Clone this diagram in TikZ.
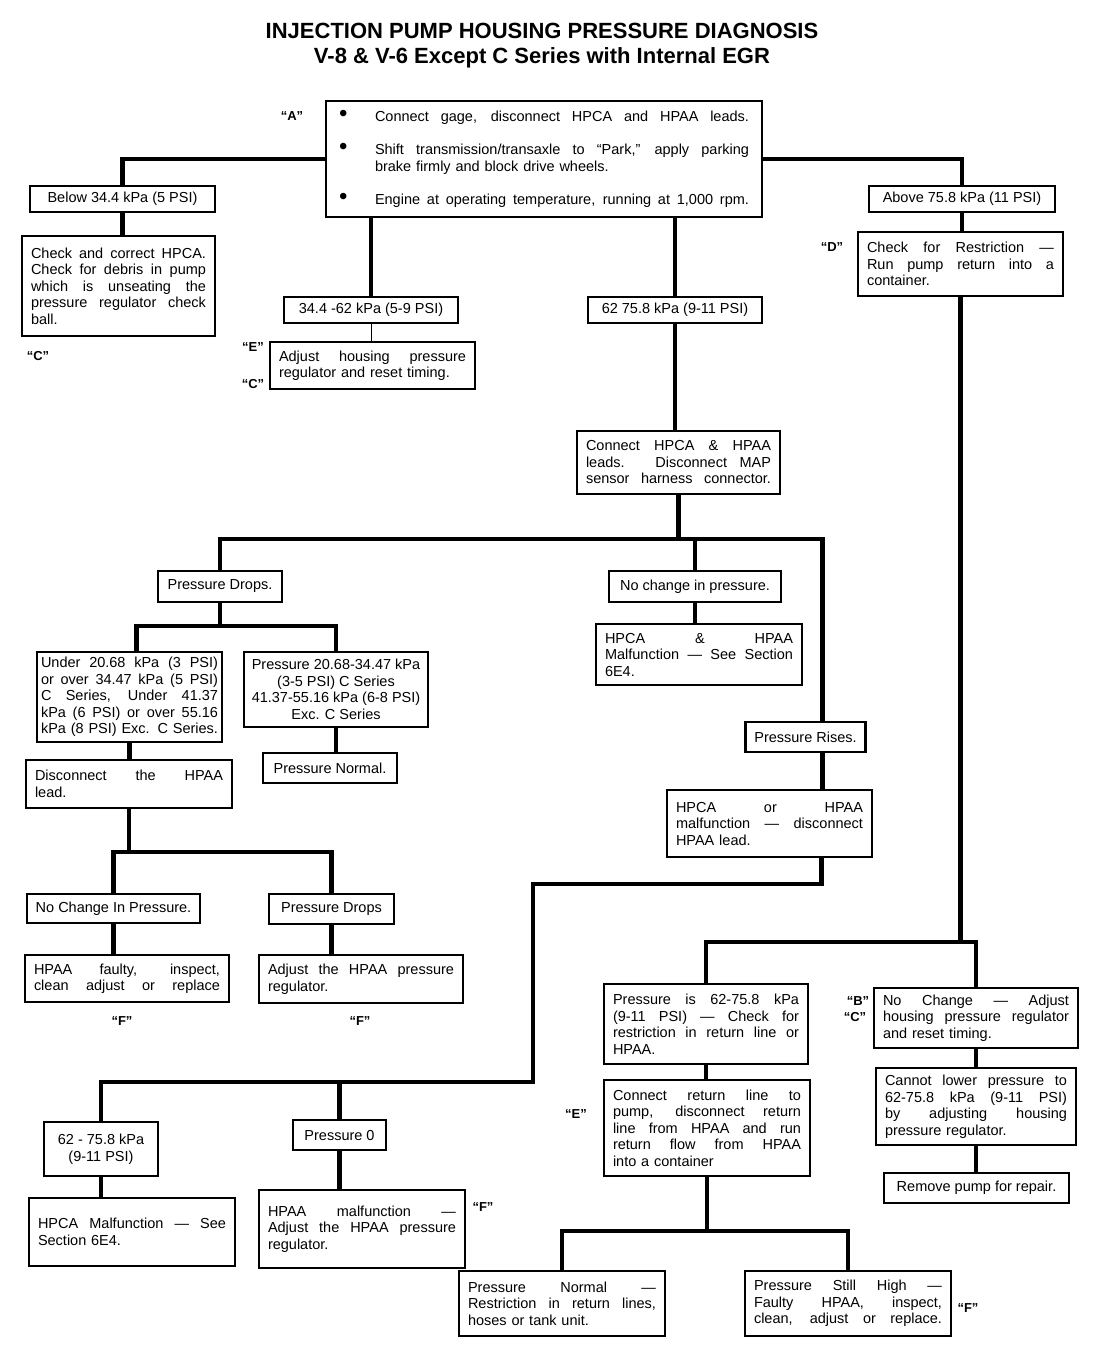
\documentclass[tikz,border=0pt]{standalone}
\usepackage{fontspec}
\setmainfont{Liberation Sans}
\setlength{\parindent}{0pt}
\newcommand{\spread}[2][\hsize]{\makebox[#1][s]{\spaceskip=0pt\xspaceskip=0pt #2}}
\newcommand{\bul}{{\fontsize{24}{16}\selectfont\textbullet}}

\begin{document}
\begin{tikzpicture}[x=1pt, y=-1pt]

\useasboundingbox (0,0) rectangle (1104,1360);

\node[font=\bfseries\fontsize{22}{25}\selectfont, align=center] (title) at (542,46) {INJECTION PUMP HOUSING PRESSURE DIAGNOSIS\\V-8 \& V-6 Except C Series with Internal EGR};

\begin{scope}[every node/.style={draw, line width=2.4pt, fill=white, inner xsep=9pt, inner ysep=3pt, font=\fontsize{14.5}{16.5}\selectfont, align=left}]
	\node[text width=418pt, minimum height=116pt] (start) at (544,159) {
	\makebox[40pt][l]{\hspace{4pt}\bul}\spread[374pt]{Connect gage, disconnect HPCA and HPAA leads.}\\[16.5pt]
	\makebox[40pt][l]{\hspace{4pt}\bul}\spread[374pt]{Shift transmission/transaxle to ``Park,'' apply parking}\\
	\hspace*{40pt}brake firmly and block drive wheels.\\[16.5pt]
	\makebox[40pt][l]{\hspace{4pt}\bul}\spread[374pt]{Engine at operating temperature, running at 1,000 rpm.}};

	% left column of the first split
	\node[minimum width=185pt, minimum height=26pt] (below) at (122.5,199) {Below 34.4 kPa (5 PSI)};
	\node[text width=175pt, minimum height=100pt] (check) at (118.5,286) {\spread{Check and correct HPCA.}\\ \spread{Check for debris in pump}\\ \spread{which is unseating the}\\ \spread{pressure regulator check}\\ ball.};
	\node[minimum width=174pt, minimum height=26pt] (low) at (371,310) {34.4 -62 kPa (5-9 PSI)};
	\node[text width=187pt, minimum height=47pt] (adjust) at (372.5,365.5) {\spread{Adjust housing pressure}\\ regulator and reset timing.};
	\node[minimum width=174pt, minimum height=26pt] (mid) at (675,310) {62 75.8 kPa (9-11 PSI)};
	\node[minimum width=186pt, minimum height=26pt] (above) at (962,199) {Above 75.8 kPa (11 PSI)};
	\node[text width=187pt, minimum height=64pt] (restr) at (960.5,264) {\spread{Check for Restriction ---}\\ \spread{Run pump return into a}\\ container.};

	% normal range branch
	\node[text width=185pt, minimum height=63pt] (leads) at (678.5,462.5) {\spread{Connect HPCA \& HPAA}\\ \spread{leads. Disconnect MAP}\\ \spread{sensor harness connector.}};
	\node[minimum width=124pt, minimum height=31pt] (drops) at (220,586.5) {Pressure Drops.};
	\node[minimum width=172pt, minimum height=31pt] (same) at (695,586.5) {No change in pressure.};
	\node[text width=188pt, minimum height=61pt] (bothbad) at (699,654.5) {\spread{HPCA \& HPAA}\\ \spread{Malfunction --- See Section}\\ 6E4.};
	\node[minimum width=119pt, minimum height=30pt] (rises) at (805.5,737) {Pressure Rises.};
	\node[text width=187pt, minimum height=67pt] (eitherbad) at (769.5,823.5) {\spread{HPCA or HPAA}\\ \spread{malfunction --- disconnect}\\ HPAA lead.};

	\node[text width=177pt, inner xsep=4pt, minimum height=90pt] (outside) at (129.5,697) {\spread{Under 20.68 kPa (3 PSI)}\\ \spread{or over 34.47 kPa (5 PSI)}\\ \spread{C Series, Under 41.37}\\ \spread{kPa (6 PSI) or over 55.16}\\ \spread{kPa (8 PSI) Exc. C Series.}};
	\node[minimum width=184pt, inner xsep=5pt, minimum height=75pt, align=center] (inside) at (336,689.5) {Pressure 20.68-34.47 kPa\\ (3-5 PSI) C Series\\ 41.37-55.16 kPa (6-8 PSI)\\ Exc. C Series};
	\node[minimum width=134pt, minimum height=30pt] (normal) at (330,768) {Pressure Normal.};
	\node[text width=188pt, minimum height=48pt] (unplug) at (129,784) {\spread{Disconnect the HPAA}\\ lead.};
	\node[minimum width=171pt, minimum height=29pt] (same2) at (113.5,908.5) {No Change In Pressure.};
	\node[minimum width=125pt, minimum height=30pt] (drops2) at (331.5,909) {Pressure Drops};
	\node[text width=186pt, minimum height=47pt] (faulty) at (127,978.5) {\spread{HPAA faulty, inspect,}\\ \spread{clean adjust or replace}};
	\node[text width=186pt, minimum height=48pt] (adjhpaa) at (361,979) {\spread{Adjust the HPAA pressure}\\ regulator.};

	\node[minimum width=114pt, minimum height=54pt, align=center] (mid2) at (101,1149) {62 - 75.8 kPa\\ (9-11 PSI)};
	\node[text width=188pt, minimum height=68pt] (hpcabad) at (132,1232) {\spread{HPCA Malfunction --- See}\\ Section 6E4.};
	\node[minimum width=93pt, minimum height=30pt] (zero) at (339.5,1135) {Pressure 0};
	\node[text width=188pt, minimum height=78pt] (hpaabad) at (362,1229) {\spread{HPAA malfunction ---}\\ \spread{Adjust the HPAA pressure}\\ regulator.};

	% high pressure branch
	\node[text width=186pt, minimum height=80pt] (inrange) at (706,1024) {\spread{Pressure is 62-75.8 kPa}\\ \spread{(9-11 PSI) --- Check for}\\ \spread{restriction in return line or}\\ HPAA.};
	\node[text width=188pt, minimum height=96pt] (retline) at (707,1128) {\spread{Connect return line to}\\ \spread{pump, disconnect return}\\ \spread{line from HPAA and run}\\ \spread{return flow from HPAA}\\ into a container};
	\node[text width=186pt, minimum height=60pt] (nochange) at (976,1018) {\spread{No Change --- Adjust}\\ \spread{housing pressure regulator}\\ and reset timing.};
	\node[text width=182pt, minimum height=77pt] (cannot) at (976,1106.5) {\spread{Cannot lower pressure to}\\ \spread{62-75.8 kPa (9-11 PSI)}\\ \spread{by adjusting housing}\\ pressure regulator.};
	\node[minimum width=185pt, minimum height=30pt] (remove) at (976.5,1188) {Remove pump for repair.};
	\node[text width=188pt, minimum height=65pt] (normal2) at (562,1303.5) {\spread{Pressure Normal ---}\\ \spread{Restriction in return lines,}\\ hoses or tank unit.};
	\node[text width=188pt, minimum height=65pt] (stillhigh) at (848,1303.5) {\spread{Pressure Still High ---}\\ \spread{Faulty HPAA, inspect,}\\ \spread{clean, adjust or replace.}};
\end{scope}

\begin{scope}[every node/.style={font=\bfseries\fontsize{13}{15}\selectfont}]
	\node (tagA) at (292,116) {``A''};
	\node (tagC1) at (38,356) {``C''};
	\node (tagE1) at (253,347) {``E''};
	\node (tagC2) at (253,384) {``C''};
	\node (tagD) at (832,247) {``D''};
	\node (tagF1) at (122,1021) {``F''};
	\node (tagF2) at (360,1021) {``F''};
	\node (tagF3) at (483,1207) {``F''};
	\node (tagB) at (858,1001) {``B''};
	\node (tagC3) at (855,1017) {``C''};
	\node (tagE2) at (576,1114) {``E''};
	\node (tagF4) at (968,1308) {``F''};
\end{scope}

\begin{scope}[line width=4.5pt]
	\draw (start.west) -| (below.north);
	\draw (start.east) -| (above.north);
	\draw (below.south) -- (below.south |- check.north);
	\draw (low.north |- start.south) -- (low.north);
	\draw (mid.north |- start.south) -- (mid.north);
	\draw (above.south) -- (above.south |- restr.north);
	\draw (mid.south) -- (mid.south |- leads.north);

	\draw (leads.south) -- ++(0,46);
	\draw (drops.north) -- ++(0,-31) -| ([xshift=17pt]rises.north);
	\draw (same.north) -- ++(0,-31);
	\draw (same.south) -- (same.south |- bothbad.north);
	\draw ([xshift=17pt]rises.south) -- ++(0,38);

	\draw (drops.south) -- ++(0,25);
	\draw ([xshift=7pt]outside.north) -- ++(0,-25) -| (inside.north);
	\draw (outside.south) -- (outside.south |- unplug.north);
	\draw (inside.south) -- (inside.south |- normal.north);
	\draw (unplug.south) -- ++(0,45);
	\draw (same2.north) -- ++(0,-41) -| (drops2.north);
	\draw (same2.south) -- (same2.south |- faulty.north);
	\draw (drops2.south) -- (drops2.south |- adjhpaa.north);

	\coordinate (bend) at (533,1082);
	\draw ([xshift=52pt]eitherbad.south) -- ++(0,26) -| (bend) -| (mid2.north);
	\draw (zero.north) -- ++(0,-38);
	\draw (mid2.south) -- (mid2.south |- hpcabad.north);
	\draw (zero.south) -- (zero.south |- hpaabad.north);

	\draw (restr.south) -- ++(0,647);
	\draw (inrange.north) -- ++(0,-41) -| (nochange.north);
	\draw (inrange.south) -- (inrange.south |- retline.north);
	\draw (nochange.south) -- (nochange.south |- cannot.north);
	\draw (cannot.south) -- (cannot.south |- remove.north);
	\draw (retline.south) -- ++(0,56);
	\draw (normal2.north) -- ++(0,-39) -| (stillhigh.north);
\end{scope}

\draw[line width=1pt] (low.south) -- (low.south |- adjust.north);

\end{tikzpicture}
\end{document}
